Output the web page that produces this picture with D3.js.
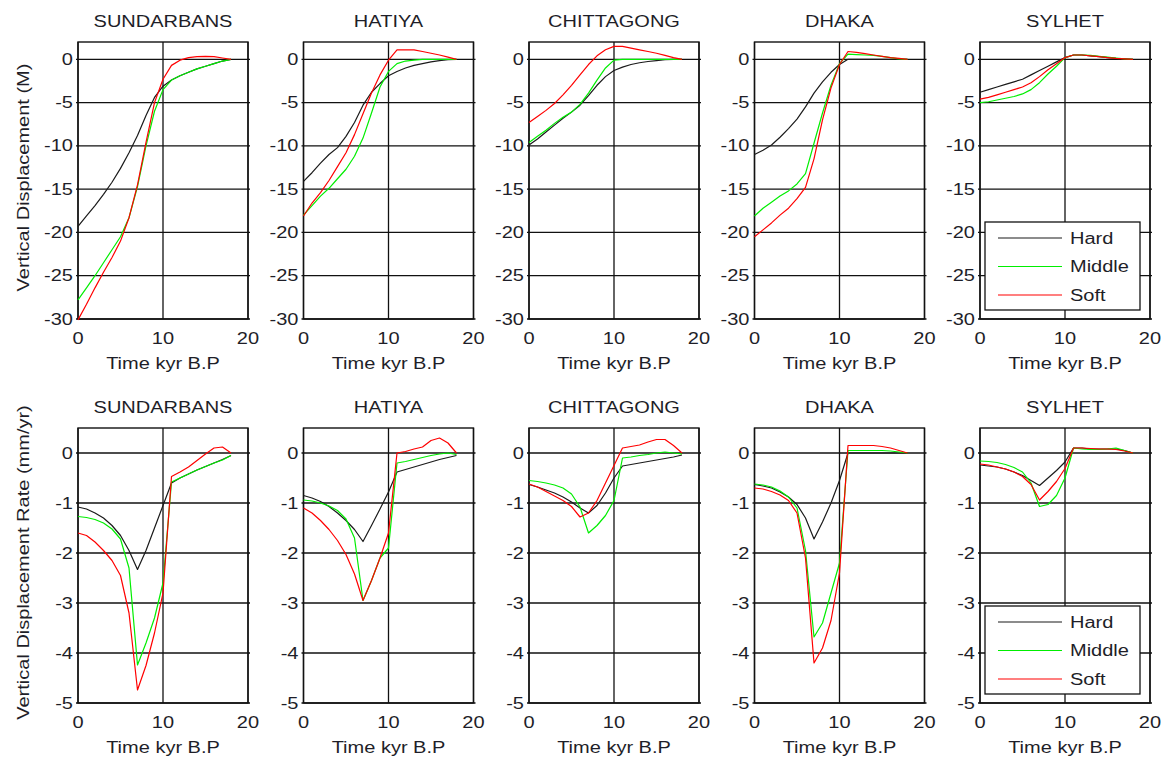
<!DOCTYPE html>
<html>
<head>
<meta charset="utf-8">
<script src="https://cdn.jsdelivr.net/npm/d3@7"></script>
<style>
  body { margin: 0; background: #fff; }
  text { font-family: "Liberation Sans", Arial, sans-serif; font-size: 16px; fill: #1e1e28; }
</style>
</head>
<body>
<svg id="chart" width="1169" height="765"></svg>
<script>
// time axis (kyr B.P)
var time = [0, 1, 2, 3, 4, 5, 6, 7, 8, 9, 10, 11, 12, 13, 14, 15, 16, 17, 18];

var sites = ["SUNDARBANS", "HATIYA", "CHITTAGONG", "DHAKA", "SYLHET"];
var models = ["Hard", "Middle", "Soft"];
var modelColors = ["#1a1a1a", "#00ee00", "#ff0000"];

// vertical displacement (M): [hard, middle, soft]
var dispSundarbans = [
    [-19.3, -18.1, -16.9, -15.6, -14.2, -12.6, -10.8, -8.8, -6.5, -4.4, -3.1, -2.4, -1.9, -1.5, -1.1, -0.8, -0.5, -0.2, 0],
    [-27.8, -26.4, -25.0, -23.5, -22.0, -20.5, -18.3, -14.7, -10.0, -6.0, -3.5, -2.4, -1.9, -1.5, -1.1, -0.8, -0.5, -0.2, 0],
    [-30.1, -28.3, -26.4, -24.6, -22.9, -21.0, -18.3, -14.5, -9.6, -5.0, -2.3, -0.7, -0.1, 0.2, 0.3, 0.35, 0.3, 0.15, 0]
];
var dispHatiya = [
    [-14.1, -13.1, -12.0, -11.0, -10.2, -8.9, -7.3, -5.3, -3.8, -2.8, -1.9, -1.4, -1.0, -0.7, -0.5, -0.3, -0.15, -0.05, 0],
    [-18.0, -16.9, -15.8, -14.9, -13.8, -12.7, -11.2, -9.1, -6.2, -3.2, -1.4, -0.5, -0.2, -0.1, 0, 0, 0, 0, 0],
    [-18.1, -16.6, -15.4, -14.0, -12.4, -10.8, -8.7, -6.3, -3.9, -1.8, -0.1, 1.1, 1.1, 1.1, 0.9, 0.7, 0.5, 0.25, 0]
];
var dispChittagong = [
    [-9.9, -9.2, -8.4, -7.6, -6.8, -6.1, -5.3, -4.2, -3.0, -2.0, -1.3, -0.9, -0.6, -0.4, -0.25, -0.15, -0.05, 0, 0],
    [-9.6, -8.9, -8.2, -7.4, -6.7, -6.1, -5.2, -3.9, -2.4, -1.0, -0.1, 0, 0, 0, 0, 0, 0, 0, 0],
    [-7.3, -6.6, -5.9, -5.1, -4.1, -3.0, -1.8, -0.6, 0.4, 1.1, 1.5, 1.5, 1.3, 1.1, 0.9, 0.7, 0.45, 0.2, 0]
];
var dispDhaka = [
    [-11.0, -10.5, -9.9, -9.0, -8.0, -6.9, -5.5, -3.9, -2.6, -1.5, -0.6, 0, 0, 0, 0, 0, 0, 0, 0],
    [-18.1, -17.2, -16.5, -15.8, -15.2, -14.4, -13.2, -9.7, -6.2, -3.0, -0.5, 0.6, 0.55, 0.5, 0.45, 0.35, 0.2, 0.05, 0],
    [-20.5, -19.7, -18.9, -18.0, -17.2, -16.1, -14.8, -11.5, -7.0, -3.3, -0.6, 0.9, 0.8, 0.65, 0.5, 0.35, 0.2, 0.1, 0]
];
var dispSylhet = [
    [-3.8, -3.5, -3.2, -2.9, -2.6, -2.3, -1.8, -1.3, -0.8, -0.3, 0.2, 0.5, 0.5, 0.4, 0.3, 0.2, 0.1, 0.05, 0],
    [-5.0, -4.9, -4.7, -4.5, -4.3, -4.0, -3.5, -2.7, -1.7, -0.8, 0.2, 0.5, 0.5, 0.45, 0.35, 0.25, 0.15, 0.05, 0],
    [-4.6, -4.4, -4.1, -3.8, -3.5, -3.2, -2.7, -2.0, -1.2, -0.5, 0.2, 0.5, 0.5, 0.4, 0.3, 0.2, 0.1, 0.05, 0]
];

// vertical displacement rate (mm/yr): [hard, middle, soft]
var rateSundarbans = [
    [-1.08, -1.12, -1.2, -1.3, -1.45, -1.65, -1.95, -2.33, -1.95, -1.5, -1.05, -0.6, -0.5, -0.42, -0.34, -0.27, -0.2, -0.13, -0.05],
    [-1.27, -1.29, -1.33, -1.4, -1.52, -1.72, -2.3, -4.24, -3.8, -3.3, -2.6, -0.58, -0.5, -0.42, -0.34, -0.27, -0.2, -0.14, -0.05],
    [-1.6, -1.65, -1.78, -1.95, -2.15, -2.45, -3.2, -4.74, -4.25, -3.6, -2.8, -0.47, -0.38, -0.28, -0.15, -0.02, 0.1, 0.12, 0]
];
var rateHatiya = [
    [-0.85, -0.9, -0.97, -1.07, -1.2, -1.35, -1.53, -1.77, -1.45, -1.12, -0.78, -0.38, -0.33, -0.28, -0.23, -0.18, -0.13, -0.09, -0.05],
    [-0.94, -0.96, -1.0, -1.06, -1.15, -1.32, -1.7, -2.95, -2.55, -2.1, -1.9, -0.2, -0.17, -0.13, -0.09, -0.05, -0.02, 0, -0.03],
    [-1.1, -1.2, -1.35, -1.53, -1.75, -2.03, -2.42, -2.95, -2.55, -2.1, -1.6, 0, 0.03, 0.08, 0.12, 0.25, 0.3, 0.2, 0]
];
var rateChittagong = [
    [-0.63, -0.68, -0.74, -0.8, -0.88, -0.98, -1.1, -1.2, -1.05, -0.8, -0.5, -0.26, -0.23, -0.2, -0.17, -0.14, -0.11, -0.08, -0.04],
    [-0.55, -0.57, -0.6, -0.64, -0.7, -0.82, -1.08, -1.6, -1.45, -1.25, -0.95, -0.1, -0.08, -0.05, -0.03, 0, 0.02, 0, -0.02],
    [-0.62, -0.68, -0.77, -0.86, -0.95, -1.07, -1.28, -1.2, -0.95, -0.6, -0.25, 0.1, 0.13, 0.16, 0.22, 0.27, 0.27, 0.15, 0]
];
var rateDhaka = [
    [-0.63, -0.66, -0.7, -0.78, -0.88, -1.03, -1.3, -1.72, -1.38, -1.0, -0.55, 0, 0, 0, 0, 0, 0, 0, 0],
    [-0.62, -0.64, -0.68, -0.76, -0.88, -1.1, -1.95, -3.68, -3.4, -2.8, -2.2, 0.05, 0.05, 0.05, 0.05, 0.05, 0.04, 0.02, 0],
    [-0.7, -0.72, -0.77, -0.84, -0.95, -1.2, -2.1, -4.2, -3.9, -3.35, -2.4, 0.15, 0.15, 0.15, 0.15, 0.13, 0.1, 0.05, 0]
];
var rateSylhet = [
    [-0.24, -0.26, -0.28, -0.32, -0.38, -0.45, -0.55, -0.65, -0.5, -0.35, -0.18, 0.1, 0.1, 0.08, 0.08, 0.08, 0.08, 0.05, 0],
    [-0.16, -0.17, -0.19, -0.23, -0.29, -0.38, -0.6, -1.07, -1.03, -0.85, -0.5, 0.1, 0.08, 0.07, 0.07, 0.08, 0.1, 0.05, 0],
    [-0.22, -0.24, -0.28, -0.32, -0.38, -0.47, -0.63, -0.94, -0.77, -0.57, -0.31, 0.1, 0.1, 0.09, 0.08, 0.08, 0.07, 0.04, 0]
];

var xTicks = [0, 10, 20];
var dispTicks = [0, -5, -10, -15, -20, -25, -30];
var rateTicks = [0, -1, -2, -3, -4, -5];

var rows = [
    { data: [dispSundarbans, dispHatiya, dispChittagong, dispDhaka, dispSylhet],
      domain: [-30, 2], ticks: dispTicks, top: 42, bottom: 319,
      ylabel: "Vertical Displacement (M)" },
    { data: [rateSundarbans, rateHatiya, rateChittagong, rateDhaka, rateSylhet],
      domain: [-5, 0.5], ticks: rateTicks, top: 428, bottom: 703,
      ylabel: "Vertical Displacement Rate (mm/yr)" }
];

var svg = d3.select("#chart");
var panelW = 170, stretch = 1.25;

// text is drawn wide like the original export
function label(g, x, y, str, anchor, rot) {
    return g.append("text")
        .attr("transform", "translate(" + x + "," + y + ")" + (rot ? " rotate(" + rot + ")" : "") + " scale(" + stretch + ",1)")
        .attr("text-anchor", anchor || "middle")
        .text(str);
}

rows.forEach(function (row) {
    row.data.forEach(function (series, i) {
        var left = 78 + i * 225.5;
        var x = d3.scaleLinear().domain([0, 20]).range([left, left + panelW]);
        var y = d3.scaleLinear().domain(row.domain).range([row.bottom, row.top]);
        var g = svg.append("g");

        // grid
        g.selectAll(".hgrid").data(row.ticks).enter().append("line")
            .attr("x1", x(0)).attr("x2", x(20))
            .attr("y1", function (d) { return y(d); }).attr("y2", function (d) { return y(d); })
            .attr("stroke", "#111").attr("stroke-width", 1.3);
        g.selectAll(".vgrid").data(xTicks).enter().append("line")
            .attr("x1", function (d) { return x(d); }).attr("x2", function (d) { return x(d); })
            .attr("y1", y(row.domain[0])).attr("y2", y(row.domain[1]))
            .attr("stroke", "#111").attr("stroke-width", 1.3);
        // small tick stubs just outside the box
        g.selectAll(".stub").data(row.ticks).enter().append("path")
            .attr("d", function (d) {
                return "M" + (x(0) - 2) + "," + y(d) + "h2M" + x(20) + "," + y(d) + "h2";
            })
            .attr("stroke", "#111").attr("stroke-width", 1.3);
        g.append("rect")
            .attr("x", x(0)).attr("y", y(row.domain[1]))
            .attr("width", x(20) - x(0)).attr("height", y(row.domain[0]) - y(row.domain[1]))
            .attr("fill", "none").attr("stroke", "#111").attr("stroke-width", 1.4);

        // curves
        var line = d3.line()
            .x(function (d, j) { return x(time[j]); })
            .y(function (d) { return y(d); });
        series.forEach(function (vals, k) {
            g.append("path").datum(vals)
                .attr("d", line)
                .attr("fill", "none")
                .attr("stroke", modelColors[k])
                .attr("stroke-width", 1.2)
                .attr("stroke-linejoin", "round");
        });

        // tick labels
        row.ticks.forEach(function (t) {
            label(g, x(0) - 5, y(t), t, "end").attr("dy", "0.35em");
        });
        xTicks.forEach(function (t) {
            label(g, x(t), row.bottom + 24.5, t);
        });

        label(g, (x(0) + x(20)) / 2, row.top - 15.5, sites[i]);
        label(g, (x(0) + x(20)) / 2, row.bottom + 49.5, "Time kyr B.P");

        if (i === 0) {
            label(g, 29, (row.top + row.bottom) / 2 - 3, row.ylabel, "middle", -90);
        }

        // legend in the last panel
        if (i === 4) {
            var lg = g.append("g").attr("transform", "translate(" + (left + 5) + "," + (row.bottom - 97) + ")");
            lg.append("rect").attr("width", 155).attr("height", 88)
                .attr("fill", "#fff").attr("stroke", "#111").attr("stroke-width", 1.3);
            models.forEach(function (m, k) {
                var ly = 16 + k * 28.5;
                lg.append("line").attr("x1", 13).attr("x2", 77)
                    .attr("y1", ly).attr("y2", ly)
                    .attr("stroke", modelColors[k]).attr("stroke-width", 1.2);
                label(lg, 85, ly, m, "start").attr("dy", "0.35em");
            });
        }
    });
});
</script>
</body>
</html>
